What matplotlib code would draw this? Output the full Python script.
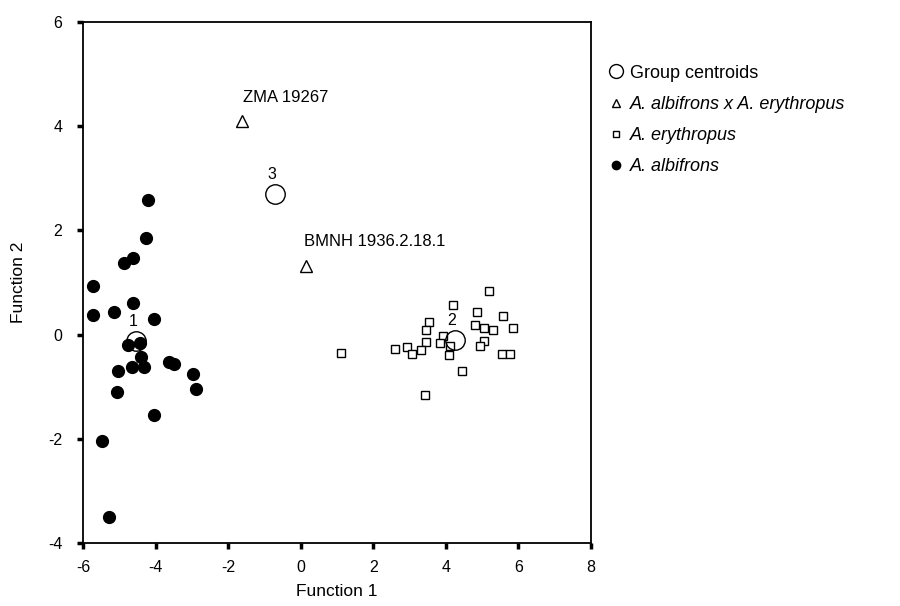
import matplotlib
matplotlib.use('Agg')
import matplotlib.pyplot as plt
from matplotlib.lines import Line2D
import numpy as np

plt.rcParams['font.family'] = ['Liberation Sans', 'DejaVu Sans']
plt.rcParams['axes.unicode_minus'] = False

# A. albifrons (filled circles)
alb_x = [-4.21, -4.26, -4.87, -4.62, -5.73, -5.72, -5.15, -4.62, -4.05, -4.76, -4.44,
         -4.39, -4.64, -4.33, -5.03, -3.64, -3.48, -2.98, -2.89, -5.05, -4.05, -5.49, -5.29]
alb_y = [2.58, 1.86, 1.37, 1.47, 0.93, 0.37, 0.44, 0.60, 0.29, -0.20, -0.16,
         -0.43, -0.63, -0.63, -0.70, -0.52, -0.57, -0.76, -1.05, -1.11, -1.54, -2.04, -3.51]

# A. erythropus (open squares)
ery_x = [5.19, 4.21, 4.86, 5.57, 3.53, 3.44, 4.81, 5.04, 5.29, 5.84, 3.92, 3.84, 3.45,
         4.12, 4.10, 5.06, 4.95, 2.59, 2.94, 3.07, 3.31, 5.54, 5.77, 4.45, 3.42, 1.12]
ery_y = [0.84, 0.56, 0.44, 0.35, 0.25, 0.09, 0.19, 0.12, 0.09, 0.12, -0.03, -0.17, -0.14,
         -0.21, -0.40, -0.13, -0.21, -0.27, -0.24, -0.37, -0.30, -0.37, -0.37, -0.69, -1.16, -0.36]

# hybrids (open triangles)
hyb_x = [-1.61, 0.15]
hyb_y = [4.10, 1.31]
hyb_names = ['ZMA 19267', 'BMNH 1936.2.18.1']

# group centroids
cen_x = [-4.54, 4.24, -0.71]
cen_y = [-0.13, -0.11, 2.69]
cen_labels = ['1', '2', '3']

fig = plt.figure(figsize=(9, 6.06), dpi=100)
ax = fig.add_axes([83 / 900, 63 / 606, 508 / 900, 521 / 606])

ax.plot(alb_x, alb_y, 'o', color='black', ms=8.5, zorder=3)
ax.plot(ery_x, ery_y, 's', mfc='white', mec='black', mew=1.0, ms=5.5, zorder=3)
ax.plot(hyb_x, hyb_y, '^', mfc='white', mec='black', mew=1.0, ms=9, zorder=3)
ax.plot(cen_x, cen_y, 'o', mfc='none', mec='black', mew=1.0, ms=14, zorder=4)

for x, y, s in zip(cen_x, cen_y, cen_labels):
    ax.text(x - 0.08, y + 0.24, s, ha='center', va='bottom', fontsize=11.5, zorder=5)
ax.text(hyb_x[0] + 0.02, hyb_y[0] + 0.3, hyb_names[0], ha='left', va='bottom', fontsize=12)
ax.text(hyb_x[1] - 0.07, hyb_y[1] + 0.33, hyb_names[1], ha='left', va='bottom', fontsize=12)

ax.set_xlim(-6, 8)
ax.set_ylim(-4, 6)
ax.set_xticks(np.arange(-6, 9, 2))
ax.set_yticks(np.arange(-4, 7, 2))
for sp in ax.spines.values():
    sp.set_linewidth(1.3)
ax.tick_params(direction='out', length=4, width=2.5, labelsize=11.5)
ax.tick_params(axis='y', pad=11)
ax.tick_params(axis='x', pad=8)
ax.set_xlabel('Function 1', fontsize=12.5, labelpad=7)
ax.set_ylabel('Function 2', fontsize=12.5, labelpad=16)

handles = [
    Line2D([], [], ls='none', marker='o', mfc='white', mec='black', ms=10),
    Line2D([], [], ls='none', marker='^', mfc='white', mec='black', ms=6),
    Line2D([], [], ls='none', marker='s', mfc='white', mec='black', ms=4.5),
    Line2D([], [], ls='none', marker='o', color='black', ms=6),
]
labels = ['Group centroids', 'A. albifrons x A. erythropus', 'A. erythropus', 'A. albifrons']
leg = fig.legend(handles, labels, loc='upper left', bbox_to_anchor=(0.665, 0.905),
                 frameon=False, fontsize=13, handletextpad=0.25, labelspacing=0.78,
                 handlelength=1.1, borderaxespad=0)
for t in leg.get_texts()[1:]:
    t.set_fontstyle('italic')

fig.savefig('out.png', dpi=100)
